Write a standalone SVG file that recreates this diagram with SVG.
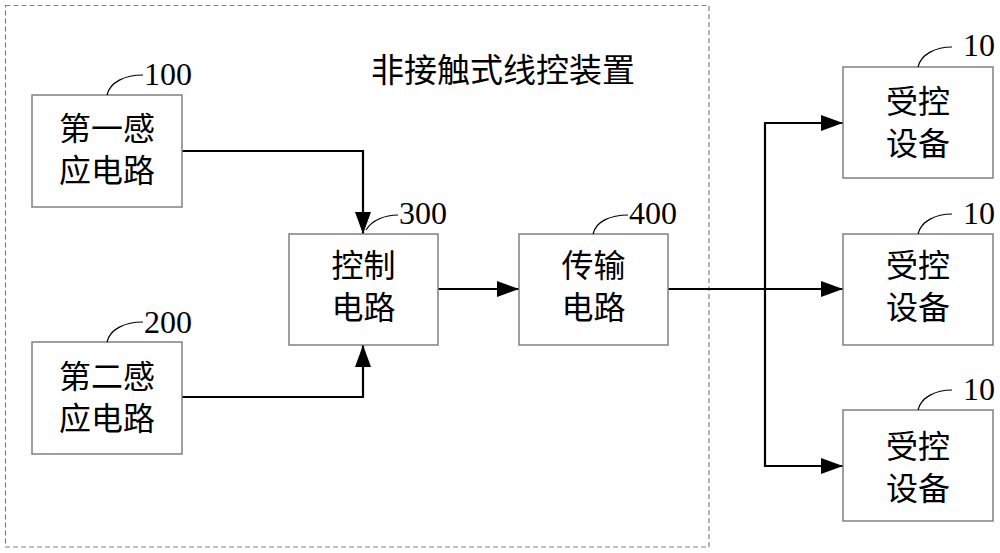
<svg xmlns="http://www.w3.org/2000/svg" width="1000" height="553" viewBox="0 0 1000 553">
<style>
.box{fill:#fff;stroke:#808080;stroke-width:1.5}
.frame{fill:none;stroke:#808080;stroke-width:1.2;stroke-dasharray:5,3}
.cn{font-family:"Noto Sans CJK SC","Noto Sans CJK JP",sans-serif;font-size:32px;fill:#000;text-anchor:middle}
.title{font-family:"Noto Sans CJK SC","Noto Sans CJK JP",sans-serif;font-size:33px;fill:#000}
.num{font-family:"Liberation Serif","Times New Roman",serif;font-size:32px;fill:#000}
.lead{fill:none;stroke:#000;stroke-width:1.2}
.conn{fill:none;stroke:#000;stroke-width:2.2}
</style>
<defs>
<marker id="arr" markerUnits="userSpaceOnUse" markerWidth="24" markerHeight="18" refX="22" refY="8" orient="auto">
<path d="M0,0 L22,8 L0,16 Z" fill="#000"/>
</marker>
</defs>
<rect class="frame" x="5.5" y="5.5" width="703.5" height="541.5"/>
<text class="title" x="371" y="82">非接触式线控装置</text>
<g id="connectors">
<polyline class="conn" points="182,151 363,151 363,234" marker-end="url(#arr)"/>
<polyline class="conn" points="182,397 363,397 363,345" marker-end="url(#arr)"/>
<line class="conn" x1="438" y1="289" x2="519" y2="289" marker-end="url(#arr)"/>
<line class="conn" x1="668" y1="289" x2="843" y2="289" marker-end="url(#arr)"/>
<polyline class="conn" points="765,289 765,123 843,123" marker-end="url(#arr)"/>
<polyline class="conn" points="765,289 765,466 843,466" marker-end="url(#arr)"/>
</g>
<g id="node100">
<rect class="box" x="32" y="95" width="150" height="112"/>
<text class="cn" x="107" y="140">第一感</text>
<text class="cn" x="107" y="182">应电路</text>
<path class="lead" d="M107,95 C110,82 125,75 143,75"/>
<text class="num" x="144" y="85">100</text>
</g>
<g id="node200">
<rect class="box" x="32" y="342" width="150" height="112"/>
<text class="cn" x="107" y="388">第二感</text>
<text class="cn" x="107" y="430">应电路</text>
<path class="lead" d="M107,342 C110,329 125,322 143,322"/>
<text class="num" x="144" y="333">200</text>
</g>
<g id="node300">
<rect class="box" x="289" y="234" width="149" height="111"/>
<text class="cn" x="363.5" y="277">控制</text>
<text class="cn" x="363.5" y="319">电路</text>
<path class="lead" d="M366,230 C372,220 385,215 398,215"/>
<text class="num" x="399" y="224">300</text>
</g>
<g id="node400">
<rect class="box" x="519" y="234" width="149" height="111"/>
<text class="cn" x="593.5" y="277">传输</text>
<text class="cn" x="593.5" y="319">电路</text>
<path class="lead" d="M593,234 C596,221 611,215 628,215"/>
<text class="num" x="629" y="224">400</text>
</g>
<g id="device1">
<rect class="box" x="843" y="67" width="150" height="111"/>
<text class="cn" x="918" y="113">受控</text>
<text class="cn" x="918" y="155">设备</text>
<path class="lead" d="M918,67 C921,54 936,47 952,47"/>
<text class="num" x="963" y="56">10</text>
</g>
<g id="device2">
<rect class="box" x="843" y="234" width="150" height="111"/>
<text class="cn" x="918" y="277">受控</text>
<text class="cn" x="918" y="319">设备</text>
<path class="lead" d="M918,234 C921,221 936,214 952,214"/>
<text class="num" x="963" y="224">10</text>
</g>
<g id="device3">
<rect class="box" x="843" y="410" width="150" height="111"/>
<text class="cn" x="918" y="458">受控</text>
<text class="cn" x="918" y="500">设备</text>
<path class="lead" d="M918,410 C921,397 936,390 952,390"/>
<text class="num" x="963" y="400">10</text>
</g>
</svg>
